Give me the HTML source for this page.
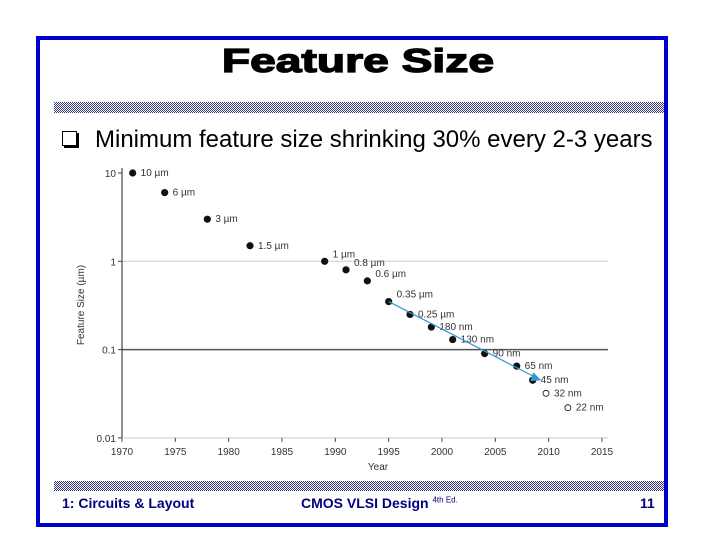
<!DOCTYPE html>
<html><head><meta charset="utf-8"><style>
body{margin:0;width:720px;height:540px;background:#fff;overflow:hidden;font-family:"Liberation Sans",sans-serif}
.abs{position:absolute}
</style></head><body>
<div class="abs" style="left:36px;top:36px;width:624px;height:483px;border:4px solid #0000cc"></div>
<div class="abs" style="left:158px;top:42px;width:400px;text-align:center;font-size:33px;line-height:38px;font-weight:bold;-webkit-text-stroke:1.3px #000;transform:scaleX(1.4);transform-origin:200px 0">Feature Size</div>
<svg class="abs" style="left:0;top:0" width="720" height="540">
<defs><pattern id="chk" width="2" height="2" patternUnits="userSpaceOnUse"><rect width="2" height="2" fill="#fff"/><rect width="1" height="1" fill="#33337a"/><rect x="1" y="1" width="1" height="1" fill="#33337a"/></pattern></defs>
<rect x="54" y="102" width="610" height="11" fill="url(#chk)"/>
<rect x="54" y="481" width="610" height="10" fill="url(#chk)"/>
<g id="chart"></g>
</svg>
<div class="abs" style="left:62px;top:126px;font-size:24px;white-space:nowrap"><span style="display:inline-block;width:13px;height:13px;border:1.5px solid #000;box-shadow:2px 2px 0 #000;margin-right:18px;vertical-align:1px"></span>Minimum feature size shrinking 30% every 2-3 years</div>
<div class="abs" style="left:62px;top:495px;font-size:14px;font-weight:bold;color:#000080">1: Circuits &amp; Layout</div>
<div class="abs" style="left:301px;top:495px;font-size:14px;font-weight:bold;color:#000080">CMOS VLSI Design <sup style="font-size:8px;font-weight:normal">4th Ed.</sup></div>
<div class="abs" style="left:640px;top:495px;font-size:14px;font-weight:bold;color:#000080">11</div>
<script>
const years=[1971,1974,1978,1982,1989,1991,1993,1995,1997,1999,2001,2004,2007,2008.5,2009.75,2011.8];
const sizes=[10,6,3,1.5,1,0.8,0.6,0.35,0.25,0.18,0.13,0.09,0.065,0.045,0.032,0.022];
const labels=["10 µm","6 µm","3 µm","1.5 µm","1 µm","0.8 µm","0.6 µm","0.35 µm","0.25 µm","180 nm","130 nm","90 nm","65 nm","45 nm","32 nm","22 nm"];
const projected=[0,0,0,0,0,0,0,0,0,0,0,0,0,0,1,1];
const xTicks=[1970,1975,1980,1985,1990,1995,2000,2005,2010,2015];
const yTicks=[10,1,0.1,0.01];
const yTickLabels=["10","1","0.1","0.01"];
const X=y=>122+(y-1970)*10.667;
const Y=v=>173+(1-Math.log10(v))*88.3;
const g=document.getElementById('chart');const NS='http://www.w3.org/2000/svg';
function mk(t,a,p){const e=document.createElementNS(NS,t);for(const k in a)e.setAttribute(k,a[k]);(p||g).appendChild(e);return e;}
let e;
e=mk('line',{x1:122,y1:Y(1),x2:608,y2:Y(1),stroke:'#ccc','stroke-width':1});


e=mk('line',{x1:122,y1:Y(0.1),x2:608,y2:Y(0.1),stroke:'#555','stroke-width':1.5});


e=mk('line',{x1:122,y1:168,x2:122,y2:Y(0.01),stroke:'#222','stroke-width':1});


e=mk('line',{x1:122,y1:Y(0.01),x2:608,y2:Y(0.01),stroke:'#ccc','stroke-width':1});


xTicks.forEach(t=>{
 mk('line',{x1:X(t),y1:Y(0.01),x2:X(t),y2:Y(0.01)+4,stroke:'#444'});
 e=mk('text',{x:X(t),y:Y(0.01)+17,'font-size':10,'text-anchor':'middle',fill:'#333'});e.textContent=t;
 
 
});
yTicks.forEach((t,i)=>{
 mk('line',{x1:118,y1:Y(t),x2:122,y2:Y(t),stroke:'#444'});
 e=mk('text',{x:116,y:Y(t)+4,'font-size':10,'text-anchor':'end',fill:'#333'});e.textContent=yTickLabels[i];
 
 
});
e=mk('text',{x:378,y:470,'font-size':10,'text-anchor':'middle',fill:'#333'});e.textContent='Year';


e=mk('text',{x:84,y:305,'font-size':10,'text-anchor':'middle',fill:'#333',transform:'rotate(-90 84 305)'});e.textContent='Feature Size (µm)';


years.forEach((yr,i)=>{
 e=mk('circle',{cx:X(yr),cy:Y(sizes[i]),r:projected[i]?3:3.6,fill:projected[i]?'#fff':'#111',stroke:'#111','stroke-width':projected[i]?0.8:0});
 
 
 e=mk('text',{x:X(yr)+8,y:Y(sizes[i])+(i>=4&&i<=7?-4:3),'font-size':10,fill:'#333'});e.textContent=labels[i];
 
 
});
const x1=X(1995),y1=Y(0.35),x2=X(2009.3),y2=Y(0.045);
e=mk('line',{x1:x1,y1:y1,x2:x2-5,y2:y2-2.5,stroke:'#3399cc','stroke-width':1.2});


e=mk('polygon',{points:`${x2},${y2} ${x2-8},${y2-8} ${x2-11},${y2+1}`,fill:'#3399cc'});


</script>
</body></html>
